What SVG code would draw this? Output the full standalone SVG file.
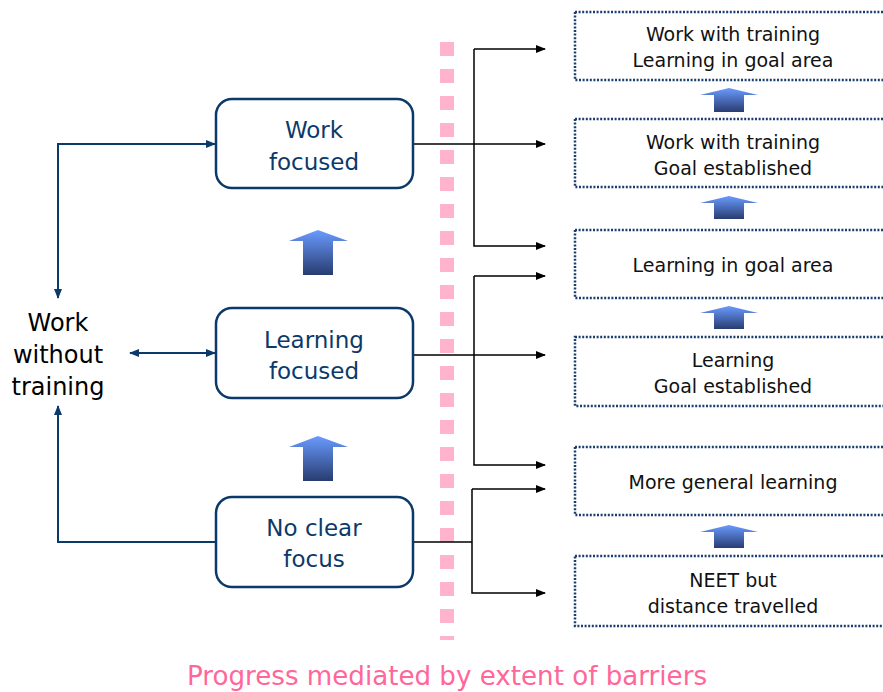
<svg xmlns="http://www.w3.org/2000/svg" width="883" height="692" viewBox="0 0 883 692">
<style>
.lb{fill:#fff;stroke:#0b3a6a;stroke-width:2.5}
.lt{font-family:"DejaVu Sans",sans-serif;font-size:23px;fill:#0b3a6a;text-anchor:middle}
.rb{fill:#fff;stroke:#1a3f6e;stroke-width:2.5;stroke-dasharray:2 1.6}
.rt{font-family:"DejaVu Sans",sans-serif;font-size:19px;fill:#111;text-anchor:middle}
.nv{fill:none;stroke:#0b3a6a;stroke-width:2}
.bk{fill:none;stroke:#000;stroke-width:1.5}
.ga{fill:url(#g)}
</style>
<defs>
<linearGradient id="g" x1="0" y1="0" x2="0" y2="1">
<stop offset="0" stop-color="#6a9bff"/>
<stop offset="1" stop-color="#283c70"/>
</linearGradient>
<marker id="ab" markerWidth="10" markerHeight="8" refX="9" refY="4" orient="auto" markerUnits="userSpaceOnUse">
<path d="M0,0 L10,4 L0,8 Z" fill="#000"/>
</marker>
<marker id="an" markerWidth="10" markerHeight="8" refX="9" refY="4" orient="auto-start-reverse" markerUnits="userSpaceOnUse">
<path d="M0,0 L10,4 L0,8 Z" fill="#0b3a6a"/>
</marker>
</defs>

<line x1="447" y1="42" x2="447" y2="640" stroke="#ffb3cc" stroke-width="14" stroke-dasharray="14 13"/>

<g id="connectors">
<path class="nv" d="M216,144 H58 V298" marker-end="url(#an)"/>
<path class="nv" d="M58,144 H215" marker-end="url(#an)"/>
<path class="nv" d="M216,542 H58 V406" marker-end="url(#an)"/>
<line class="nv" x1="130" y1="353" x2="215" y2="353" marker-start="url(#an)" marker-end="url(#an)"/>
<path class="bk" d="M413,144 H545" marker-end="url(#ab)"/>
<path class="bk" d="M474,49 H545" marker-end="url(#ab)"/>
<path class="bk" d="M474,49 V246 H545" marker-end="url(#ab)"/>
<path class="bk" d="M413,355 H545" marker-end="url(#ab)"/>
<path class="bk" d="M474,276 H545" marker-end="url(#ab)"/>
<path class="bk" d="M474,276 V465 H545" marker-end="url(#ab)"/>
<path class="bk" d="M413,542 H472"/>
<path class="bk" d="M472,489 H545" marker-end="url(#ab)"/>
<path class="bk" d="M472,489 V593 H545" marker-end="url(#ab)"/>
</g>

<g id="work-without-training">
<text class="lt" x="58" y="331" style="fill:#000;font-size:24px">Work</text>
<text class="lt" x="58" y="363" style="fill:#000;font-size:24px">without</text>
<text class="lt" x="58" y="395" style="fill:#000;font-size:24px">training</text>
</g>

<g id="work-focused">
<rect class="lb" x="216" y="99" width="197" height="89" rx="16"/>
<text class="lt" x="314" y="138">Work</text>
<text class="lt" x="314" y="170">focused</text>
</g>
<g id="learning-focused">
<rect class="lb" x="216" y="308" width="197" height="90" rx="16"/>
<text class="lt" x="314" y="348">Learning</text>
<text class="lt" x="314" y="379">focused</text>
</g>
<g id="no-clear-focus">
<rect class="lb" x="216" y="497" width="197" height="90" rx="16"/>
<text class="lt" x="314" y="536">No clear</text>
<text class="lt" x="314" y="567">focus</text>
</g>

<g id="big-arrows">
<path class="ga" d="M318,230 L348,241 H333 V275 H303 V241 H289 Z"/>
<path class="ga" d="M318,436 L348,447 H333 V481 H303 V447 H289 Z"/>
</g>

<g id="r1">
<rect class="rb" x="575" y="12" width="320" height="68"/>
<text class="rt" x="733" y="41">Work with training</text>
<text class="rt" x="733" y="67">Learning in goal area</text>
</g>
<g id="r2">
<rect class="rb" x="575" y="119" width="320" height="68"/>
<text class="rt" x="733" y="149">Work with training</text>
<text class="rt" x="733" y="175">Goal established</text>
</g>
<g id="r3">
<rect class="rb" x="575" y="230" width="320" height="68"/>
<text class="rt" x="733" y="272">Learning in goal area</text>
</g>
<g id="r4">
<rect class="rb" x="575" y="337" width="320" height="69"/>
<text class="rt" x="733" y="367">Learning</text>
<text class="rt" x="733" y="393">Goal established</text>
</g>
<g id="r5">
<rect class="rb" x="575" y="447" width="320" height="68"/>
<text class="rt" x="733" y="489">More general learning</text>
</g>
<g id="r6">
<rect class="rb" x="575" y="556" width="320" height="70"/>
<text class="rt" x="733" y="587">NEET but</text>
<text class="rt" x="733" y="613">distance travelled</text>
</g>

<g id="small-arrows">
<path class="ga" d="M729,88 L758,95 H744 V112 H714 V95 H700 Z"/>
<path class="ga" d="M729,196 L758,203 H744 V219 H714 V203 H700 Z"/>
<path class="ga" d="M729,306 L758,313 H744 V329 H714 V313 H700 Z"/>
<path class="ga" d="M729,525 L758,532 H744 V548 H714 V532 H700 Z"/>
</g>

<text x="447" y="685" style="font-family:'DejaVu Sans',sans-serif;font-size:26px;fill:#ff6699;text-anchor:middle" textLength="520" lengthAdjust="spacingAndGlyphs">Progress mediated by extent of barriers</text>
</svg>
